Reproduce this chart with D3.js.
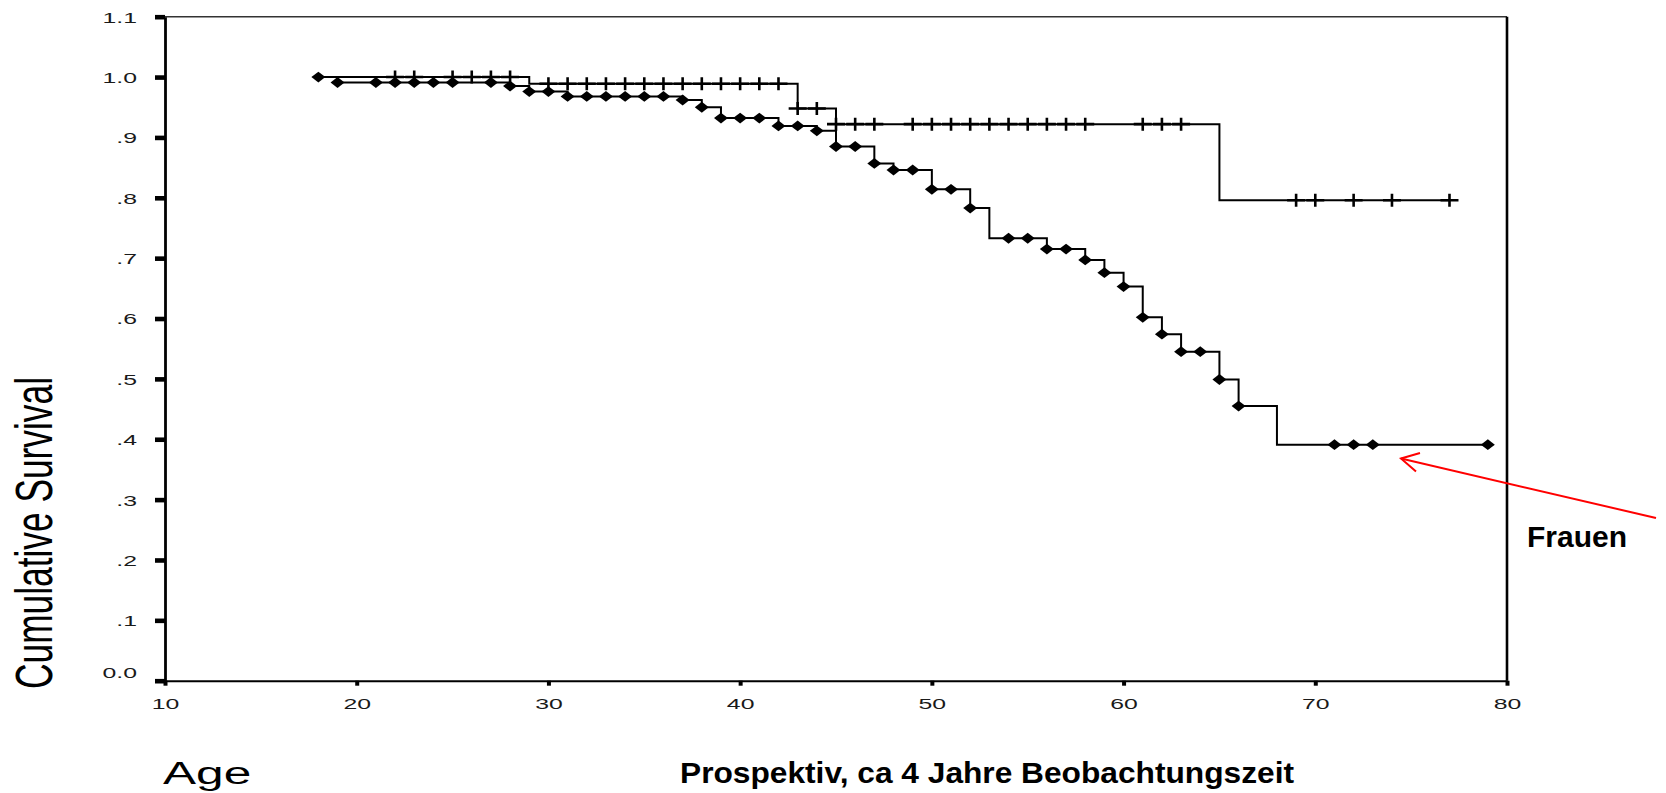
<!DOCTYPE html>
<html>
<head>
<meta charset="utf-8">
<script src="https://cdn.jsdelivr.net/npm/d3@7/dist/d3.min.js"></script>
<style>
  html, body { margin: 0; padding: 0; background: #fff; }
  svg { display: block; }
</style>
</head>
<body>
<svg id="chart" width="1666" height="793"></svg>
<script>
// ---- data ----
const xTicks = [10, 20, 30, 40, 50, 60, 70, 80];
const xTickLabels = ["10", "20", "30", "40", "50", "60", "70", "80"];
const yTicks = [0, 0.1, 0.2, 0.3, 0.4, 0.5, 0.6, 0.7, 0.8, 0.9, 1.0, 1.1];
const yTickLabels = ["0.0", ".1", ".2", ".3", ".4", ".5", ".6", ".7", ".8", ".9", "1.0", "1.1"];

// Frauen (diamond markers)
const femaleStepAges = [18, 19, 28, 29, 31, 37, 38, 39, 42, 44, 45, 47, 48, 50, 52, 53, 56, 58, 59, 60, 61, 62, 63, 65, 66, 68];
const femaleStepSurv = [1.0, 0.991, 0.985, 0.976, 0.968, 0.962, 0.950, 0.932, 0.919, 0.911, 0.885, 0.857, 0.846, 0.814, 0.783, 0.733, 0.715, 0.697, 0.676, 0.653, 0.602, 0.574, 0.545, 0.499, 0.455, 0.391];
const femaleEndAge = 79;
const femaleMarkAges = [18, 19, 21, 22, 23, 24, 25, 27, 28, 29, 30, 31, 32, 33, 34, 35, 36, 37, 38, 39, 40, 41, 42, 43, 44, 45, 46, 47, 48, 49, 50, 51, 52, 54, 55, 56, 57, 58, 59, 60, 61, 62, 63, 64, 65, 66, 71, 72, 73, 79];

// second group (cross markers)
const maleStepAges = [18, 29, 43, 45, 65];
const maleStepSurv = [1.0, 0.989, 0.948, 0.922, 0.796];
const maleEndAge = 77;
const maleMarkAges = [22, 23, 25, 26, 27, 28, 30, 31, 32, 33, 34, 35, 36, 37, 38, 39, 40, 41, 42, 43, 44, 45, 46, 47, 49, 50, 51, 52, 53, 54, 55, 56, 57, 58, 61, 62, 63, 69, 70, 72, 74, 77];

const yAxisTitle = "Cumulative Survival";
const xAxisTitle = "Age";
const subTitle = "Prospektiv, ca 4 Jahre Beobachtungszeit";
const annotation = "Frauen";

// ---- layout ----
const svg = d3.select("#chart");
const x = d3.scaleLinear().domain([10, 80]).range([165, 1507]);
const y = d3.scaleLinear().domain([0, 1.1]).range([680.7, 16.7]);
const FONT = "'Liberation Sans', Arial, Helvetica, sans-serif";
const SX = 1.6; // horizontal stretch of the original SPSS graphic

// frame: top and right borders
svg.append("line").attr("x1", x(10)).attr("x2", x(80)).attr("y1", y(1.1)).attr("y2", y(1.1))
  .attr("stroke", "#333").attr("stroke-width", 1.6);
svg.append("line").attr("x1", x(80)).attr("x2", x(80)).attr("y1", y(1.1)).attr("y2", y(0))
  .attr("stroke", "#000").attr("stroke-width", 2.6);

// left axis
const gy = svg.append("g").attr("transform", `translate(${x(10)},0)`)
  .call(d3.axisLeft(y).tickValues(yTicks).tickFormat((d, i) => yTickLabels[i]).tickSize(10).tickSizeOuter(0));
gy.select(".domain").attr("stroke", "#000").attr("stroke-width", 2.8);
gy.selectAll(".tick line").attr("stroke", "#000").attr("stroke-width", 4.6);
gy.selectAll(".tick text")
  .attr("font-family", FONT).attr("font-size", 15.5).attr("fill", "#1a1a1a")
  .attr("text-anchor", "end")
  .attr("x", -28 / SX)
  .attr("dy", (d) => d === 0 ? "-0.2em" : "0.35em")
  .attr("transform", `scale(${SX},1)`);

// bottom axis
const gx = svg.append("g").attr("transform", `translate(0,${y(0)})`)
  .call(d3.axisBottom(x).tickValues(xTicks).tickFormat((d, i) => xTickLabels[i]).tickSize(5).tickSizeOuter(0));
gx.select(".domain").attr("stroke", "#000").attr("stroke-width", 2);
gx.selectAll(".tick line").attr("stroke", "#000").attr("stroke-width", 4);
gx.selectAll(".tick text")
  .attr("font-family", FONT).attr("font-size", 15.5).attr("fill", "#1a1a1a")
  .attr("text-anchor", "middle")
  .attr("y", 28.5).attr("dy", "0")
  .attr("transform", `scale(${SX},1)`);

// ---- curves ----
function survAt(ages, survs, t) {
  let s = survs[0];
  for (let i = 0; i < ages.length; i++) if (ages[i] <= t) s = survs[i];
  return s;
}
const stepLine = d3.line().x(d => x(d[0])).y(d => y(d[1])).curve(d3.curveStepAfter);

function drawCurve(ages, survs, endAge) {
  const pts = ages.map((a, i) => [a, survs[i]]);
  pts.push([endAge, survs[survs.length - 1]]);
  svg.append("path").attr("d", stepLine(pts))
    .attr("fill", "none").attr("stroke", "#000").attr("stroke-width", 2);
}
drawCurve(maleStepAges, maleStepSurv, maleEndAge);
drawCurve(femaleStepAges, femaleStepSurv, femaleEndAge);

// cross (censor) marks
svg.append("g").selectAll("path").data(maleMarkAges).join("path")
  .attr("transform", d => `translate(${x(d)},${y(survAt(maleStepAges, maleStepSurv, d))})`)
  .attr("d", "M-9,0H9M0,-6.5V6.5")
  .attr("stroke", "#000").attr("stroke-width", 2.6).attr("fill", "none");

// diamond marks
svg.append("g").selectAll("path").data(femaleMarkAges).join("path")
  .attr("transform", d => `translate(${x(d)},${y(survAt(femaleStepAges, femaleStepSurv, d))})`)
  .attr("d", "M0,-5.4L7,0L0,5.4L-7,0Z")
  .attr("fill", "#000");

// ---- titles ----
svg.append("text")
  .attr("transform", `translate(52,533) scale(1.55,1) rotate(-90)`)
  .attr("text-anchor", "middle")
  .attr("font-family", FONT).attr("font-size", 33).attr("fill", "#000")
  .attr("textLength", 312).attr("lengthAdjust", "spacingAndGlyphs")
  .text(yAxisTitle);

svg.append("text")
  .attr("transform", `translate(163,784) scale(${SX},1)`)
  .attr("font-family", FONT).attr("font-size", 31).attr("fill", "#000")
  .text(xAxisTitle);

svg.append("text")
  .attr("x", 680).attr("y", 783)
  .attr("font-family", FONT).attr("font-size", 30).attr("font-weight", "bold").attr("fill", "#000")
  .attr("textLength", 614).attr("lengthAdjust", "spacingAndGlyphs")
  .text(subTitle);

svg.append("text")
  .attr("x", 1527).attr("y", 547)
  .attr("font-family", FONT).attr("font-size", 30).attr("font-weight", "bold").attr("fill", "#000")
  .text(annotation);

// red arrow
const arrow = svg.append("g").attr("stroke", "#ff0000").attr("stroke-width", 2).attr("fill", "none");
arrow.append("line").attr("x1", 1656).attr("y1", 518).attr("x2", 1401).attr("y2", 458.5);
arrow.append("path").attr("d", "M1420,453L1401,458.5L1416,471.5");
</script>
</body>
</html>
